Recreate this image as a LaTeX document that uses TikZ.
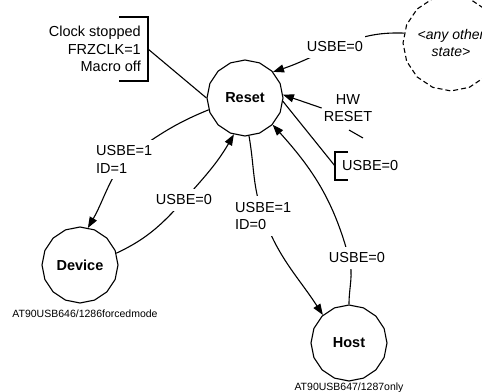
\documentclass[tikz,border=0pt]{standalone}
\usepackage{fontspec}
\setmainfont{Liberation Sans}
\usepackage{tikz}
\usetikzlibrary{arrows.meta, positioning, shapes.geometric, calc, backgrounds}

\tikzset{
  state/.style={draw, regular polygon, regular polygon sides=16, shape border rotate=11.25,
                minimum size=76pt, inner sep=0pt, fill=white, line width=1.1pt,
                font=\fontsize{14.5}{17}\selectfont\bfseries},
  lbl/.style={font=\fontsize{14.5}{17.5}\selectfont, inner xsep=2pt, inner ysep=6pt,
              fill=white, align=left},
  note/.style={font=\fontsize{10.5}{12}\selectfont, inner sep=0pt},
  trans/.style={line width=1.1pt},
  arr/.style={trans, -{Triangle[length=11pt,width=8pt]}},
}

\begin{document}
\begin{tikzpicture}[x=1pt, y=1pt]
  \useasboundingbox (0,0) rectangle (482,391);

  % states
  \node[state] (reset) at (245,293) {Reset};
  \node[state] (device) at (80,126) {Device};
  \node[state] (host) at (349,48) {Host};
  \node[state, dashed, dash pattern=on 5pt off 3pt, minimum size=74pt,
        font=\fontsize{14}{17}\selectfont\itshape, align=center] (other) at (451,348) {<any other\\state>};

  \node[note, anchor=base] (devnote) at (85,73) {AT90USB646/1286forcedmode};
  \node[note, anchor=base] (hostnote) at (349,1) {AT90USB647/1287only};

  % comments in brackets
  \node[lbl, fill=none, inner sep=0pt, align=right, anchor=east] (clock) at (141,342)
       {Clock stopped\\FRZCLK=1\\Macro off};
  \coordinate (clk) at (148,342);
  \draw[trans] (119,374) -| (clk) |- (119,310);

  \node[lbl, fill=none, inner sep=0pt, anchor=west] (usbeoff) at (342,225) {USBE=0};
  \coordinate (b2) at (335,225);
  \draw[trans] (348,239) -| (b2) |- (348,211);

  % transition labels
  \node[lbl] (uany) at (335,344) {USBE=0};
  \node[lbl, fill=none, inner sep=2pt, align=center] (hw) at (348,283) {HW\\RESET};
  \node[lbl, anchor=west] (l1) at (94,231.5) {USBE=1\\ID=1};
  \node[lbl] (l2) at (184,191) {USBE=0};
  \node[lbl, anchor=west] (l3) at (233,175) {USBE=1\\ID=0};
  \node[lbl] (l4) at (357,133) {USBE=0};
  \coordinate (hwtail) at (363,253);

  \begin{scope}[on background layer]
    \draw[trans] (clk) -- (reset.180);
    \draw[trans] (reset.355) -- (b2);
    \draw[trans] ($(hw.south)+(1,-6)$) -- (hwtail);
    \draw[arr] (hw.west) -- (reset.5);
    \draw[arr] (other.168) to[out=178, in=22] (uany.center) to[out=202, in=18] (reset.43);
    \draw[arr] (reset.198) to[out=202, in=36] (l1.center) to[out=235, in=60] (device.78);
    \draw[arr] (device.18) to[out=25, in=228] (l2.center) to[out=48, in=240] (reset.253);
    \draw[arr] (reset.276) to[out=280, in=110] (l3.center) to[out=290, in=123] (host.133);
    \draw[arr] (host.90) to[out=90, in=-75] (l4 -| host) to[out=105, in=312] (reset.316);
  \end{scope}
\end{tikzpicture}
\end{document}
